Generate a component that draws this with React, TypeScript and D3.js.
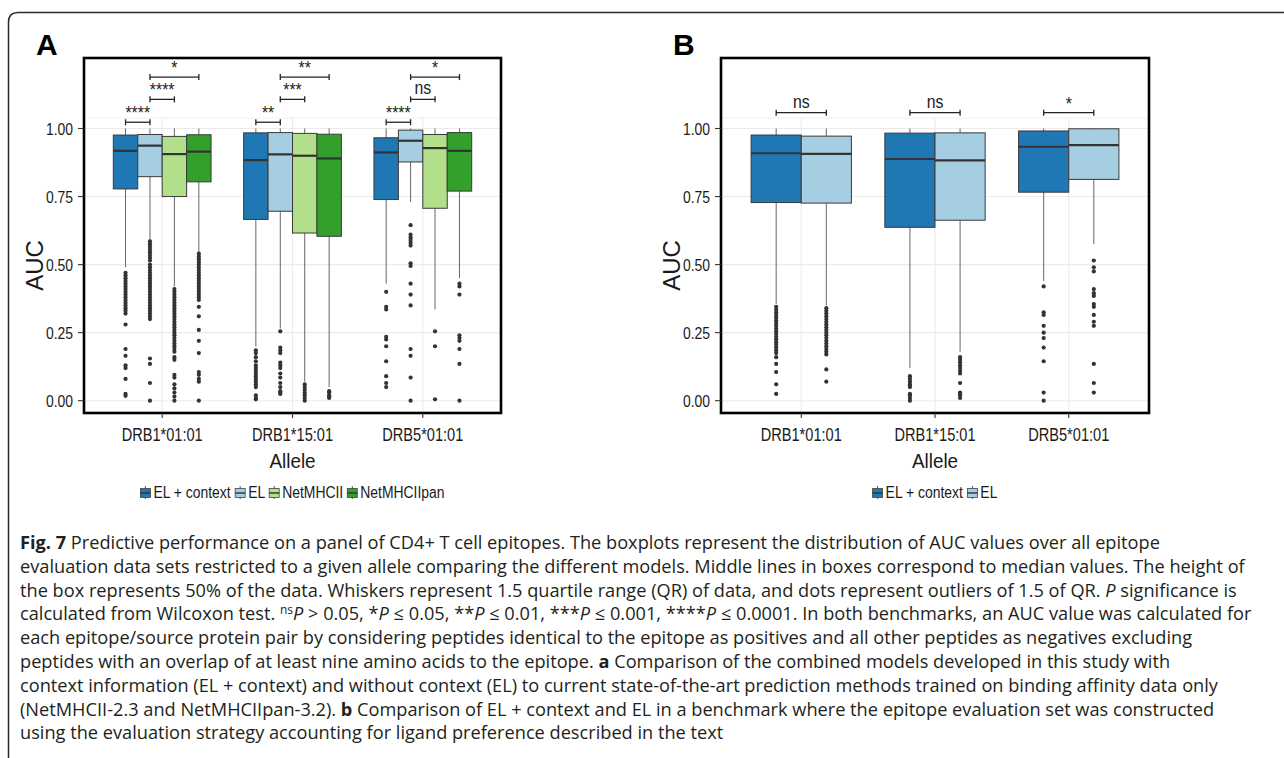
import React from "react";
import * as d3 from "d3";

// ---------- data ----------
const alleles = ["DRB1*01:01", "DRB1*15:01", "DRB5*01:01"];
const yTicks = [0, 0.25, 0.5, 0.75, 1];
const yTickLabels = ["0.00", "0.25", "0.50", "0.75", "1.00"];
const seriesNamesA = ["EL + context", "EL", "NetMHCII", "NetMHCIIpan"];
const seriesNamesB = ["EL + context", "EL"];
const seriesColors: Record<string, string> = {
  "EL + context": "#1f78b4",
  EL: "#a6cee3",
  NetMHCII: "#b2df8a",
  NetMHCIIpan: "#33a02c",
};

// [lower whisker, q1, median, q3, upper whisker] per allele
const aElCtxStats = [
  [0.49, 0.778, 0.918, 0.976, 1.0],
  [0.2, 0.666, 0.884, 0.984, 1.0],
  [0.43, 0.739, 0.912, 0.966, 1.0],
];
const aElStats = [
  [0.59, 0.823, 0.937, 0.978, 1.0],
  [0.265, 0.696, 0.905, 0.985, 1.0],
  [0.73, 0.877, 0.955, 0.994, 1.0],
];
const aNetMHCIIStats = [
  [0.42, 0.75, 0.906, 0.971, 1.0],
  [0.07, 0.616, 0.9, 0.982, 1.0],
  [0.335, 0.707, 0.928, 0.978, 1.0],
];
const aNetMHCIIpanStats = [
  [0.545, 0.804, 0.915, 0.977, 1.0],
  [0.05, 0.604, 0.89, 0.979, 1.0],
  [0.45, 0.77, 0.918, 0.985, 1.0],
];

const aElCtxOutliers = [
  [0.47, 0.46, 0.45, 0.44, 0.43, 0.42, 0.41, 0.4, 0.39, 0.38, 0.37, 0.36, 0.35, 0.34, 0.33, 0.32, 0.28, 0.19, 0.165, 0.13, 0.12, 0.08, 0.025, 0.018],
  [0.185, 0.175, 0.16, 0.145, 0.13, 0.12, 0.11, 0.1, 0.09, 0.08, 0.07, 0.06, 0.05, 0.02, 0.01, 0.005],
  [0.4, 0.345, 0.335, 0.235, 0.225, 0.2, 0.145, 0.09, 0.065, 0.05],
];
const aElOutliers = [
  [0.585, 0.575, 0.565, 0.555, 0.545, 0.535, 0.525, 0.515, 0.5, 0.49, 0.48, 0.47, 0.46, 0.45, 0.44, 0.43, 0.42, 0.41, 0.4, 0.39, 0.38, 0.37, 0.36, 0.35, 0.34, 0.33, 0.32, 0.31, 0.3, 0.155, 0.135, 0.065, 0.0],
  [0.255, 0.195, 0.185, 0.175, 0.14, 0.13, 0.12, 0.1, 0.085, 0.065, 0.05, 0.035, 0.03, 0.025],
  [0.645, 0.61, 0.6, 0.59, 0.58, 0.57, 0.505, 0.495, 0.43, 0.39, 0.35, 0.19, 0.165, 0.085, 0.0],
];
const aNetMHCIIOutliers = [
  [0.41, 0.4, 0.39, 0.38, 0.37, 0.36, 0.35, 0.34, 0.33, 0.32, 0.31, 0.3, 0.29, 0.28, 0.27, 0.26, 0.25, 0.24, 0.23, 0.22, 0.21, 0.2, 0.19, 0.18, 0.16, 0.15, 0.095, 0.085, 0.06, 0.045, 0.03, 0.015, 0.0],
  [0.06, 0.05, 0.04, 0.03, 0.02, 0.01, 0.0],
  [0.255, 0.2, 0.005],
];
const aNetMHCIIpanOutliers = [
  [0.54, 0.53, 0.52, 0.51, 0.5, 0.49, 0.48, 0.47, 0.46, 0.45, 0.44, 0.43, 0.42, 0.41, 0.4, 0.39, 0.38, 0.37, 0.345, 0.31, 0.26, 0.22, 0.175, 0.105, 0.095, 0.08, 0.07, 0.0],
  [0.035, 0.03, 0.02, 0.015, 0.01],
  [0.43, 0.42, 0.39, 0.24, 0.23, 0.22, 0.19, 0.135, 0.0],
];

const bElCtxStats = [
  [0.355, 0.728, 0.909, 0.976, 1.0],
  [0.12, 0.637, 0.888, 0.983, 1.0],
  [0.44, 0.766, 0.933, 0.991, 1.0],
];
const bElStats = [
  [0.35, 0.726, 0.907, 0.972, 1.0],
  [0.18, 0.663, 0.883, 0.984, 1.0],
  [0.575, 0.813, 0.939, 0.999, 1.0],
];
const bElCtxOutliers = [
  [0.345, 0.335, 0.325, 0.315, 0.305, 0.295, 0.285, 0.275, 0.265, 0.255, 0.245, 0.235, 0.225, 0.215, 0.205, 0.195, 0.185, 0.175, 0.16, 0.135, 0.105, 0.06, 0.025],
  [0.09, 0.08, 0.07, 0.06, 0.055, 0.05, 0.025, 0.02, 0.01, 0.0],
  [0.42, 0.325, 0.315, 0.275, 0.25, 0.23, 0.195, 0.145, 0.03, 0.0],
];
const bElOutliers = [
  [0.34, 0.33, 0.32, 0.31, 0.3, 0.29, 0.28, 0.27, 0.26, 0.25, 0.24, 0.23, 0.22, 0.21, 0.2, 0.19, 0.18, 0.17, 0.115, 0.07],
  [0.16, 0.15, 0.14, 0.13, 0.12, 0.11, 0.1, 0.065, 0.03, 0.025, 0.02, 0.01],
  [0.515, 0.49, 0.475, 0.41, 0.395, 0.385, 0.355, 0.345, 0.315, 0.29, 0.275, 0.135, 0.065, 0.03],
];

const aSigPairs = [[0, 1], [1, 2], [1, 3]];
const aSigHeights = [1.023, 1.107, 1.189];
const aSigLabels = [["****", "****", "*"], ["**", "***", "**"], ["****", "ns", "*"]];
const bSigPairs = [[0, 1]];
const bSigHeights = [1.058];
const bSigLabels = [["ns"], ["ns"], ["*"]];

// ---------- helpers ----------
const FONT = "'Liberation Sans', Arial, Helvetica, sans-serif";
let _ctx: CanvasRenderingContext2D | null = null;
function textWidth(s: string, font: string) {
  if (!_ctx) _ctx = document.createElement("canvas").getContext("2d");
  _ctx!.font = font;
  return _ctx!.measureText(s).width;
}

function SText({ x, y, sx = 1, size, anchor = "start", weight = "normal", children, fill = "#1a1a1a" }: any) {
  return (
    <text
      transform={`translate(${x},${y}) scale(${sx},1)`}
      fontFamily={FONT}
      fontSize={size}
      fontWeight={weight}
      textAnchor={anchor}
      fill={fill}
    >
      {children}
    </text>
  );
}

function Panel({ left, right, letter, names, stats, outliers, sigPairs, sigHeights, sigLabels }: any) {
  const frameTop = 58;
  const frameBottom = 413;
  const panelTop = 118;
  const x = d3.scalePoint<string>().domain(alleles).range([left, right]).padding(0.6);
  const y = d3.scaleLinear().domain([0, 1]).range([400.7, 128.5]);
  const k = names.length;
  const bw = (x.step() * 0.75) / k;
  const cx = (ai: number, si: number) => (x(alleles[ai]) as number) + (si - (k - 1) / 2) * bw;
  const mid = (left + right) / 2;

  return (
    <g>
      {/* grid */}
      <line x1={left} x2={right} y1={panelTop} y2={panelTop} stroke="#f0f0f0" strokeWidth={1} />
      {yTicks.map((t) => (
        <line key={"h" + t} x1={left} x2={right} y1={y(t)} y2={y(t)} stroke="#ebebeb" strokeWidth={1.1} />
      ))}
      {alleles.map((a) => (
        <line key={"v" + a} x1={x(a)} x2={x(a)} y1={panelTop} y2={frameBottom} stroke="#ebebeb" strokeWidth={1.1} />
      ))}
      {/* boxes */}
      {names.map((name: string, si: number) =>
        alleles.map((a, ai) => {
          const s = stats[si][ai];
          const c = cx(ai, si);
          return (
            <g key={name + a}>
              <line x1={c} x2={c} y1={y(s[4])} y2={y(s[3])} stroke="#555" strokeWidth={0.9} />
              <line x1={c} x2={c} y1={y(s[1])} y2={y(s[0])} stroke="#555" strokeWidth={0.9} />
              <rect
                x={c - bw / 2}
                y={y(s[3])}
                width={bw}
                height={y(s[1]) - y(s[3])}
                fill={seriesColors[name]}
                stroke="#3a3a3a"
                strokeWidth={1}
              />
              <line x1={c - bw / 2} x2={c + bw / 2} y1={y(s[2])} y2={y(s[2])} stroke="#333" strokeWidth={2.2} />
              {outliers[si][ai].map((v: number, i: number) => (
                <circle key={i} cx={c} cy={y(v)} r={2.1} fill="#333" />
              ))}
            </g>
          );
        })
      )}
      {/* significance brackets */}
      {alleles.map((a, ai) =>
        sigPairs.map((p: number[], pi: number) => {
          const x1 = cx(ai, p[0]);
          const x2 = cx(ai, p[1]);
          const yy = y(sigHeights[pi]);
          const lab = sigLabels[ai][pi];
          return (
            <g key={"sig" + ai + pi}>
              <line x1={x1} x2={x2} y1={yy} y2={yy} stroke="#222" strokeWidth={1.3} />
              <line x1={x1} x2={x1} y1={yy - 3} y2={yy + 3} stroke="#222" strokeWidth={1.3} />
              <line x1={x2} x2={x2} y1={yy - 3} y2={yy + 3} stroke="#222" strokeWidth={1.3} />
              <SText x={(x1 + x2) / 2} y={lab === "ns" ? yy - 5 : yy - 3} sx={0.88} size={18} anchor="middle" fill="#222">
                {lab}
              </SText>
            </g>
          );
        })
      )}
      {/* frame */}
      <rect x={left} y={frameTop} width={right - left} height={frameBottom - frameTop} fill="none" stroke="#000" strokeWidth={2.6} />
      {/* y axis */}
      {yTicks.map((t, i) => (
        <g key={"yt" + t}>
          <line x1={left - 6} x2={left} y1={y(t)} y2={y(t)} stroke="#333" strokeWidth={1.1} />
          <SText x={left - 11} y={y(t) + 6} sx={0.82} size={17} anchor="end">
            {yTickLabels[i]}
          </SText>
        </g>
      ))}
      {/* x axis */}
      {alleles.map((a) => (
        <g key={"xt" + a}>
          <line x1={x(a)} x2={x(a)} y1={frameBottom} y2={frameBottom + 5} stroke="#333" strokeWidth={1.1} />
          <SText x={x(a)} y={441} sx={0.81} size={18} anchor="middle">
            {a}
          </SText>
        </g>
      ))}
      <text transform={`translate(${left - 41},${(panelTop + frameBottom) / 2}) rotate(-90)`} fontFamily={FONT} fontSize={24} textAnchor="middle" fill="#1a1a1a">
        AUC
      </text>
      <SText x={mid} y={468} sx={0.9} size={21} anchor="middle">
        Allele
      </SText>
      <SText x={left - 48} y={55} size={30} weight="bold" fill="#000">
        {letter}
      </SText>
      <Legend names={names} center={mid} />
    </g>
  );
}

function Legend({ names, center }: any) {
  const size = 16;
  const sx = 0.87;
  const keyW = 10;
  const gapKT = 3;
  const gapItem = 4;
  const widths = names.map((n: string) => textWidth(n, `${size}px ${FONT}`) * sx);
  const total = widths.reduce((a: number, b: number) => a + b, 0) + names.length * (keyW + gapKT) + (names.length - 1) * gapItem;
  let cur = center - total / 2;
  const items = names.map((n: string, i: number) => {
    const xk = cur;
    cur += keyW + gapKT + widths[i] + gapItem;
    return { n, xk, tx: xk + keyW + gapKT };
  });
  const yk = 487;
  return (
    <g>
      {items.map((it: any) => (
        <g key={it.n}>
          <line x1={it.xk + keyW / 2} x2={it.xk + keyW / 2} y1={yk - 1} y2={yk + 12} stroke="#555" strokeWidth={1} />
          <rect x={it.xk} y={yk + 1.5} width={keyW} height={9} fill={seriesColors[it.n]} stroke="#444" strokeWidth={0.8} />
          <line x1={it.xk} x2={it.xk + keyW} y1={yk + 6} y2={yk + 6} stroke="#333" strokeWidth={1.4} />
          <SText x={it.tx} y={498} sx={sx} size={size}>
            {it.n}
          </SText>
        </g>
      ))}
    </g>
  );
}

const CAP_FONT = "'Open Sans', 'Noto Sans', sans-serif";

function Caption() {
  const x = 20;
  const y0 = 549;
  const lh = 23.8;
  const lines: React.ReactNode[] = [
    <>
      <tspan fontWeight="bold">Fig. 7</tspan> Predictive performance on a panel of CD4+ T cell epitopes. The boxplots represent the distribution of AUC values over all epitope
    </>,
    <>evaluation data sets restricted to a given allele comparing the different models. Middle lines in boxes correspond to median values. The height of</>,
    <>
      the box represents 50% of the data. Whiskers represent 1.5 quartile range (QR) of data, and dots represent outliers of 1.5 of QR. <tspan fontStyle="italic">P</tspan> significance is
    </>,
    <>
      calculated from Wilcoxon test. <tspan fontSize={12} dy={-6}>ns</tspan>
      <tspan dy={6} fontStyle="italic">P</tspan> {"> 0.05, *"}
      <tspan fontStyle="italic">P</tspan> {"≤ 0.05, **"}
      <tspan fontStyle="italic">P</tspan> {"≤ 0.01, ***"}
      <tspan fontStyle="italic">P</tspan> {"≤ 0.001, ****"}
      <tspan fontStyle="italic">P</tspan> {"≤ 0.0001. In both benchmarks, an AUC value was calculated for"}
    </>,
    <>each epitope/source protein pair by considering peptides identical to the epitope as positives and all other peptides as negatives excluding</>,
    <>
      peptides with an overlap of at least nine amino acids to the epitope. <tspan fontWeight="bold">a</tspan> Comparison of the combined models developed in this study with
    </>,
    <>context information (EL + context) and without context (EL) to current state-of-the-art prediction methods trained on binding affinity data only</>,
    <>
      (NetMHCII-2.3 and NetMHCIIpan-3.2). <tspan fontWeight="bold">b</tspan> Comparison of EL + context and EL in a benchmark where the epitope evaluation set was constructed
    </>,
    <>using the evaluation strategy accounting for ligand preference described in the text</>,
  ];
  return (
    <g>
      {lines.map((l, i) => (
        <text key={i} x={x} y={y0 + i * lh} fontFamily={CAP_FONT} fontSize={18.2} fill="#231f20" xmlSpace="preserve">
          {l}
        </text>
      ))}
    </g>
  );
}

export default function App() {
  const aStats = [aElCtxStats, aElStats, aNetMHCIIStats, aNetMHCIIpanStats];
  const aOut = [aElCtxOutliers, aElOutliers, aNetMHCIIOutliers, aNetMHCIIpanOutliers];
  const bStats = [bElCtxStats, bElStats];
  const bOut = [bElCtxOutliers, bElOutliers];
  return (
    <svg
      width={1284}
      height={758}
      style={{ position: "absolute", left: 0, top: 0, background: "#fff" }}
      xmlns="http://www.w3.org/2000/svg"
    >
      <rect x={0} y={0} width={1284} height={758} fill="#fff" />
      <path d="M 8.5 758 V 22 Q 8.5 12.5 18 12.5 H 1284" fill="none" stroke="#2a2a2a" strokeWidth={1.5} />
      <Panel left={84} right={501} letter="A" names={seriesNamesA} stats={aStats} outliers={aOut} sigPairs={aSigPairs} sigHeights={aSigHeights} sigLabels={aSigLabels} />
      <Panel left={721} right={1149} letter="B" names={seriesNamesB} stats={bStats} outliers={bOut} sigPairs={bSigPairs} sigHeights={bSigHeights} sigLabels={bSigLabels} />
      <Caption />
    </svg>
  );
}
